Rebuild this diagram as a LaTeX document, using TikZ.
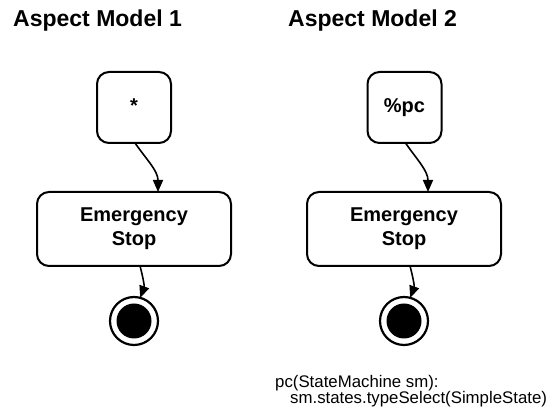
\documentclass[tikz,border=0pt]{standalone}
\usepackage{fontspec}
\setmainfont{Liberation Sans}
\usetikzlibrary{arrows.meta}
\tikzset{
 title/.style={anchor=base west, font=\fontsize{23}{27}\selectfont\bfseries, inner sep=0pt},
 smallstate/.style={draw, line width=2pt, rounded corners=12pt, minimum width=74pt, minimum height=71pt, font=\fontsize{20}{24}\selectfont\bfseries, text height=14pt, text depth=4pt, inner sep=0pt, outer sep=0pt},
 bigstate/.style={draw, line width=2pt, rounded corners=12pt, minimum width=194pt, minimum height=74pt, align=center, font=\fontsize{20}{24}\selectfont\bfseries, inner sep=0pt, outer sep=0pt},
 finalstate/.style={circle, draw, line width=2.2pt, fill=white, minimum size=48pt, inner sep=0pt, outer sep=0pt},
 trans/.style={line width=1.6pt, -{Triangle[length=12pt,width=10pt]}},
 note/.style={anchor=base west, font=\fontsize{16.8}{20}\selectfont, inner sep=0pt}
}
\begin{document}
\begin{tikzpicture}[x=1pt,y=1pt]
\useasboundingbox[fill=white] (0,0) rectangle (551,414);
% titles
\node[title] (t1) at (13,387.3) {Aspect Model 1};
\node[title] (t2) at (288,387.3) {Aspect Model 2};
% model 1
\node[smallstate] (b1) at (134,306.5) {*};
\node[bigstate] (e1) at (134,185) {Emergency\\Stop};
\node[finalstate] (f1) at (134,93) {};
\fill (f1.center) circle[radius=17.5pt];
\draw[trans] ([xshift=1pt]b1.south) to[out=-55,in=90] ([xshift=24pt]e1.north);
\draw[trans] ([xshift=6pt]e1.south) to[out=-75,in=70] (f1.75);
% model 2
\node[smallstate] (b2) at (404.5,306.5) {\%pc};
\node[bigstate] (e2) at (404,185) {Emergency\\Stop};
\node[finalstate] (f2) at (404,93) {};
\fill (f2.center) circle[radius=17.5pt];
\draw[trans] ([xshift=1pt]b2.south) to[out=-55,in=90] ([xshift=24pt]e2.north);
\draw[trans] ([xshift=6pt]e2.south) to[out=-75,in=70] (f2.75);
% note
\node[note] (n1) at (275,26) {pc(StateMachine sm):};
\node[note] (n2) at (290,10) {sm.states.typeSelect(SimpleState)};
\end{tikzpicture}
\end{document}
